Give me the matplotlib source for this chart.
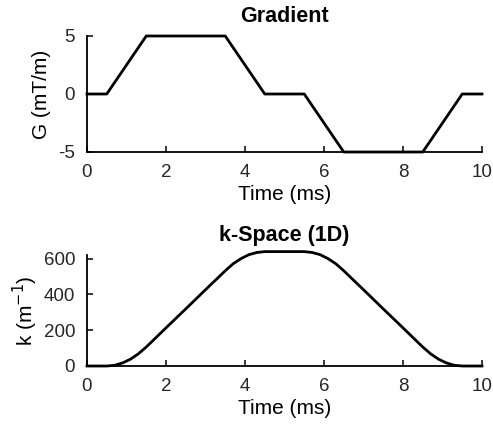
import matplotlib.pyplot as plt
import numpy as np

plt.rcParams['font.family'] = ['Liberation Sans', 'DejaVu Sans']
plt.rcParams['axes.unicode_minus'] = False

# gradient waveform (ms, mT/m)
t_grad = [0, 0.5, 1.5, 3.5, 4.5, 5.5, 6.5, 8.5, 9.5, 10]
g_vals = [0, 0, 5, 5, 0, 0, -5, -5, 0, 0]

# k-space trajectory (ms, 1/m)
t_k = [0, 0.5, 0.7, 0.9, 1.1, 1.3, 1.5, 2.0, 2.5, 3.0, 3.5, 3.7, 3.9, 4.1, 4.3, 4.5,
       5.5, 5.7, 5.9, 6.1, 6.3, 6.5, 7.0, 7.5, 8.0, 8.5, 8.7, 8.9, 9.1, 9.3, 9.5, 10]
k_vals = [0, 0, 4, 17, 38, 68, 106, 213, 319, 426, 532, 571, 600, 622, 634, 639,
          639, 634, 622, 600, 571, 532, 426, 319, 213, 106, 68, 38, 17, 4, 0, 0]

fig = plt.figure(figsize=(4.93, 4.29), dpi=100)
ax1 = fig.add_axes([87 / 493, 1 - 152 / 429, 395 / 493, 116 / 429])
ax2 = fig.add_axes([87 / 493, 1 - 366 / 429, 395 / 493, 111 / 429])

ax1.plot(t_grad, g_vals, color='black', linewidth=2, clip_on=False)
ax1.set_xlim(0, 10)
ax1.set_ylim(-5, 5)
ax1.set_yticks([-5, 0, 5])
ax1.set_title('Gradient', fontsize=15.5, fontweight='bold', pad=10)
ax1.set_ylabel('G (mT/m)', fontsize=15, labelpad=5)

ax2.plot(t_k, k_vals, color='black', linewidth=2, clip_on=False)
ax2.set_xlim(0, 10)
ax2.set_ylim(0, 620)
ax2.set_yticks([0, 200, 400, 600])
ax2.set_title('k-Space (1D)', fontsize=15.5, fontweight='bold', pad=10)
ax2.set_ylabel('k (m$^{-1}$)', fontsize=15, labelpad=3)

for ax in (ax1, ax2):
    ax.set_xticks([0, 2, 4, 6, 8, 10])
    ax.set_xlabel('Time (ms)', fontsize=15, labelpad=3)
    ax.spines['top'].set_visible(False)
    ax.spines['right'].set_visible(False)
    ax.spines['left'].set_linewidth(1.3)
    ax.spines['bottom'].set_linewidth(1.3)
    ax.tick_params(direction='in', length=4, width=1.3, labelsize=13.5,
                   colors='#262626', pad=8.5)

plt.savefig('out.png', dpi=100)
